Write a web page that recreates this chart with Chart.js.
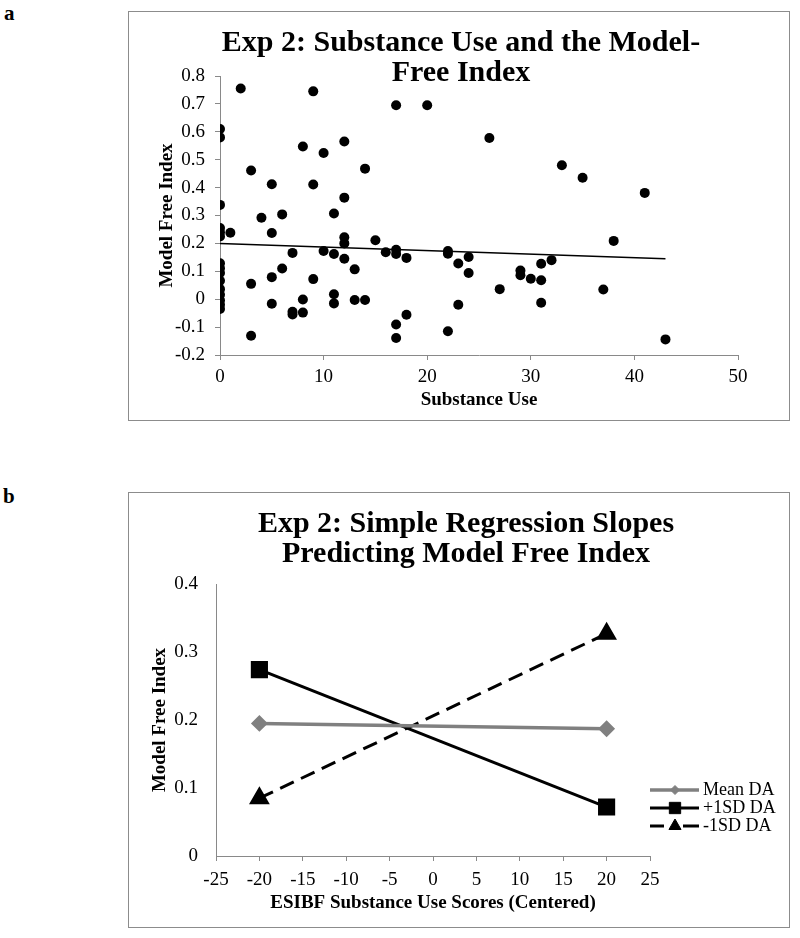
<!DOCTYPE html>
<html>
<head>
<meta charset="utf-8">
<script src="https://cdn.jsdelivr.net/npm/chart.js@4.4.1/dist/chart.umd.min.js"></script>
<style>
  body { margin: 0; background: #fff; width: 800px; height: 938px; position: relative; overflow: hidden; font-family: "Liberation Serif", serif; }
  .frame { position: absolute; border: 1px solid #8c8c8c; }
  .title { position: absolute; text-align: center; font-weight: bold; font-size: 30px; line-height: 30px; color: #000; }
  .tag { position: absolute; font-weight: bold; font-size: 21px; }
</style>
</head>
<body>
<div class="tag" style="left:4px;top:1px">a</div>
<div class="frame" style="left:128px;top:11px;width:660px;height:408px"><canvas id="chartA"></canvas></div>
<div class="title" style="left:161px;top:26px;width:600px">Exp 2: Substance Use and the Model-<br>Free Index</div>

<div class="tag" style="left:3px;top:484px">b</div>
<div class="frame" style="left:128px;top:492px;width:660px;height:434px"><canvas id="chartB"></canvas></div>
<div class="title" style="left:166px;top:507px;width:600px">Exp 2: Simple Regression Slopes<br>Predicting Model Free Index</div>

<script>
// panel a: scatter of substance use vs model-free index
const substanceUse = [
  0, 0, 0, 0, 0, 0, 0, 0, 0, 0, 0, 0, 0, 0, 0,
  1, 2, 3, 3, 3, 4, 5, 5, 5, 5, 6, 6, 7, 7, 7,
  8, 8, 8, 9, 9, 9, 10, 10, 11, 11, 11, 11,
  12, 12, 12, 12, 12, 13, 13, 14, 14, 15, 16,
  17, 17, 17, 17, 17, 18, 18, 20, 22, 22, 22,
  23, 23, 24, 24, 26, 27, 29, 29, 30, 31, 31, 31,
  32, 33, 35, 37, 38, 41, 43
];
const modelFreeIndex = [
  0.61, 0.58, 0.338, 0.255, 0.24, 0.225, 0.129, 0.111, 0.094, 0.066, 0.036, 0.016, -0.004, -0.02, -0.035,
  0.238, 0.755, 0.461, 0.055, -0.131, 0.292, 0.412, 0.237, 0.079, -0.016, 0.304, 0.110, 0.166, -0.045, -0.055,
  0.547, -0.001, -0.048, 0.745, 0.411, 0.072, 0.524, 0.173, 0.307, 0.162, 0.018, -0.015,
  0.565, 0.364, 0.222, 0.2, 0.145, 0.107, -0.003, 0.468, -0.003, 0.211, 0.168,
  0.695, 0.177, 0.162, -0.091, -0.139, 0.148, -0.056, 0.695, 0.173, 0.163, -0.115,
  0.128, -0.02, 0.151, 0.094, 0.578, 0.036, 0.103, 0.086, 0.073, 0.127, 0.068, -0.013,
  0.14, 0.48, 0.435, 0.035, 0.209, 0.381, -0.144
];
// fitted trend line end points
const trendX = [0, 43];
const trendY = [0.2, 0.145];

// panel b: simple slopes
const centeredUse = [-20, 20];
const meanDA = [0.195, 0.187];
const plusSD = [0.274, 0.072];
const minusSD = [0.085, 0.327];

const yTicksA = { min: -0.2, max: 0.8, step: 0.1 };
const xTicksA = { min: 0, max: 50, step: 10 };
const yTicksB = { min: 0, max: 0.4, step: 0.1 };
const xTicksB = { min: -25, max: 25, step: 5 };

Chart.defaults.font.family = '"Liberation Serif", serif';
Chart.defaults.color = '#000';
Chart.defaults.animation = false;

const axisGray = '#898989';
const tickFont = { size: 19 };
const titleFont = { size: 19, weight: 'bold' };

const pts = (xs, ys) => xs.map((x, i) => ({ x: x, y: ys[i] }));

new Chart(document.getElementById('chartA'), {
  type: 'scatter',
  data: {
    datasets: [
      {
        label: 'Model Free Index',
        data: pts(substanceUse, modelFreeIndex),
        backgroundColor: '#000',
        borderColor: '#000',
        pointRadius: 5,
        pointBorderWidth: 0
      },
      {
        label: 'Trend',
        data: pts(trendX, trendY),
        showLine: true,
        borderColor: '#000',
        borderWidth: 1.5,
        pointRadius: 0
      }
    ]
  },
  options: {
    responsive: true,
    maintainAspectRatio: false,
    layout: { padding: { top: 64, right: 51, left: 23, bottom: 5 } },
    plugins: { legend: { display: false }, tooltip: { enabled: false } },
    scales: {
      x: {
        type: 'linear',
        min: xTicksA.min, max: xTicksA.max,
        ticks: { stepSize: xTicksA.step, font: tickFont, padding: 6 },
        grid: { drawOnChartArea: false, drawTicks: true, tickLength: 5, color: axisGray },
        border: { color: axisGray },
        title: { display: true, text: 'Substance Use', font: titleFont, padding: { top: 4, bottom: 4 } },
        afterFit: s => { s.height = 60; }
      },
      y: {
        min: yTicksA.min, max: yTicksA.max,
        ticks: { stepSize: yTicksA.step, font: tickFont, padding: 10 },
        grid: { drawOnChartArea: false, drawTicks: true, tickLength: 5, color: axisGray },
        border: { color: axisGray },
        title: { display: true, text: 'Model Free Index', font: titleFont, padding: { top: 4, bottom: 4 } },
        afterFit: s => { s.width = 68; }
      }
    }
  }
});

// line + marker legend drawn to the right of the plot area
const sideLegend = {
  id: 'sideLegend',
  afterDraw(chart) {
    const { ctx, chartArea } = chart;
    const x0 = chartArea.right;
    const len = 49;
    chart.data.datasets.forEach((ds, i) => {
      const y = chartArea.bottom - 66 + i * 18;
      ctx.save();
      ctx.strokeStyle = ds.borderColor;
      ctx.lineWidth = ds.borderWidth;
      ctx.beginPath();
      if (ds.borderDash) {
        // dash - marker - dash, as in the original legend
        ctx.moveTo(x0, y); ctx.lineTo(x0 + 14, y);
        ctx.moveTo(x0 + len - 16, y); ctx.lineTo(x0 + len, y);
      } else {
        ctx.moveTo(x0, y); ctx.lineTo(x0 + len, y);
      }
      ctx.stroke();
      ctx.fillStyle = ds.pointBackgroundColor;
      ctx.strokeStyle = ds.pointBorderColor;
      ctx.lineWidth = 1;
      Chart.helpers.drawPoint(ctx, { pointStyle: ds.pointStyle, radius: ds.legendRadius, borderWidth: 1, rotation: 0 }, x0 + 25, y);
      ctx.fillStyle = '#000';
      ctx.font = '18px "Liberation Serif"';
      ctx.textBaseline = 'middle';
      ctx.textAlign = 'left';
      ctx.fillText(ds.label, x0 + 53, y);
      ctx.restore();
    });
  }
};

new Chart(document.getElementById('chartB'), {
  type: 'scatter',
  data: {
    datasets: [
      {
        label: 'Mean DA',
        data: pts(centeredUse, meanDA),
        showLine: true,
        borderColor: '#808080',
        borderWidth: 3.5,
        pointStyle: 'rectRot',
        pointRadius: 6,
        legendRadius: 4.5,
        pointBackgroundColor: '#808080',
        pointBorderColor: '#808080'
      },
      {
        label: '+1SD DA',
        data: pts(centeredUse, plusSD),
        showLine: true,
        borderColor: '#000',
        borderWidth: 3,
        pointStyle: 'rect',
        pointRadius: 10,
        legendRadius: 8,
        pointBackgroundColor: '#000',
        pointBorderColor: '#000'
      },
      {
        label: '-1SD DA',
        data: pts(centeredUse, minusSD),
        showLine: true,
        borderColor: '#000',
        borderWidth: 3,
        borderDash: [15, 8],
        pointStyle: 'triangle',
        pointRadius: 9,
        legendRadius: 7,
        pointBackgroundColor: '#000',
        pointBorderColor: '#000'
      }
    ]
  },
  options: {
    responsive: true,
    maintainAspectRatio: false,
    layout: { padding: { top: 91, right: 139, left: 16, bottom: 9 } },
    plugins: { legend: { display: false }, tooltip: { enabled: false } },
    scales: {
      x: {
        type: 'linear',
        min: xTicksB.min, max: xTicksB.max,
        ticks: { stepSize: xTicksB.step, font: tickFont, padding: 8 },
        grid: { drawOnChartArea: false, drawTicks: true, tickLength: 5, color: axisGray },
        border: { color: axisGray },
        title: { display: true, text: 'ESIBF Substance Use Scores (Centered)', font: titleFont, padding: { top: 4, bottom: 4 } },
        afterFit: s => { s.height = 62; }
      },
      y: {
        min: yTicksB.min, max: yTicksB.max,
        ticks: { stepSize: yTicksB.step, font: tickFont, padding: 18 },
        grid: { display: false, drawTicks: false },
        border: { color: axisGray },
        title: { display: true, text: 'Model Free Index', font: titleFont, padding: { top: 4, bottom: 4 } },
        afterFit: s => { s.width = 71; }
      }
    }
  },
  plugins: [sideLegend]
});
</script>
</body>
</html>
